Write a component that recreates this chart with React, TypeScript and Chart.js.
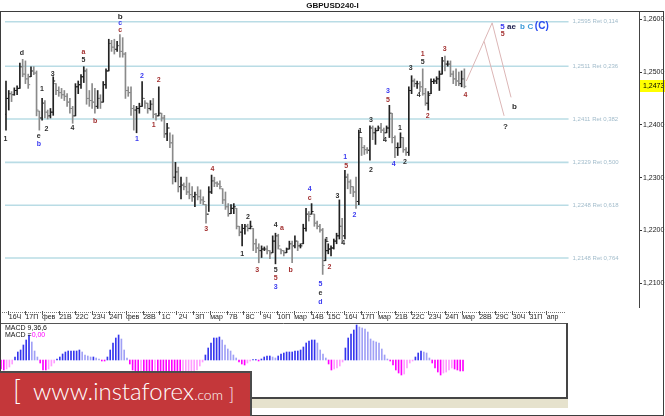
import React, { useEffect, useRef } from 'react';
import { Chart, registerables } from 'chart.js';

Chart.register(...registerables);

// ---------- DATA ----------
const opens = [
  1.2420,1.2450,1.2459,1.2457,1.2465,1.2469,1.2510,1.2496,1.2487,1.2491,
  1.2502,1.2498,1.2426,1.2413,1.2441,1.2424,1.2417,1.2424,1.2478,1.2465,
  1.2461,1.2457,1.2454,1.2443,1.2431,1.2417,1.2472,1.2476,1.2491,1.2502,
  1.2450,1.2446,1.2443,1.2435,1.2450,1.2443,1.2476,1.2502,1.2554,1.2547,
  1.2543,1.2550,1.2539,1.2534,1.2465,1.2461,1.2431,1.2428,1.2431,1.2435,
  1.2450,1.2441,1.2431,1.2439,1.2420,1.2417,1.2422,1.2413,1.2383,1.2394,
  1.2366,1.2301,1.2311,1.2283,1.2286,1.2283,1.2273,1.2268,1.2264,1.2268,
  1.2264,1.2258,1.2249,1.2231,1.2273,1.2294,1.2290,1.2288,1.2279,1.2258,
  1.2245,1.2232,1.2242,1.2242,1.2208,1.2197,1.2204,1.2208,1.2204,1.2204,
  1.2175,1.2167,1.2162,1.2165,1.2165,1.2162,1.2158,1.2180,1.2190,1.2165,
  1.2162,1.2158,1.2165,1.2175,1.2171,1.2180,1.2171,1.2175,1.2204,1.2231,
  1.2231,1.2231,1.2214,1.2208,1.2201,1.2143,1.2162,1.2165,1.2167,1.2180,
  1.2190,1.2208,1.2190,1.2301,1.2292,1.2283,1.2273,1.2255,1.2376,1.2357,
  1.2353,1.2352,1.2394,1.2385,1.2389,1.2394,1.2390,1.2385,1.2394,1.2422,
  1.2376,1.2357,1.2357,1.2376,1.2353,1.2348,1.2465,1.2483,1.2478,1.2478,
  1.2472,1.2459,1.2441,1.2459,1.2482,1.2483,1.2487,1.2496,1.2521,1.2515,
  1.2515,1.2496,1.2487,1.2483,1.2478,1.2487,
];
const highs = [
  1.2483,1.2465,1.2463,1.2470,1.2474,1.2517,1.2524,1.2521,1.2496,1.2510,
  1.2510,1.2502,1.2426,1.2450,1.2446,1.2428,1.2431,1.2491,1.2478,1.2472,
  1.2469,1.2465,1.2459,1.2450,1.2435,1.2478,1.2483,1.2495,1.2510,1.2506,
  1.2465,1.2478,1.2469,1.2465,1.2457,1.2482,1.2506,1.2562,1.2560,1.2562,
  1.2558,1.2571,1.2565,1.2537,1.2472,1.2472,1.2437,1.2435,1.2441,1.2482,
  1.2446,1.2441,1.2446,1.2450,1.2422,1.2472,1.2422,1.2418,1.2403,1.2385,
  1.2381,1.2329,1.2320,1.2301,1.2290,1.2301,1.2290,1.2283,1.2273,1.2283,
  1.2277,1.2264,1.2249,1.2283,1.2305,1.2301,1.2292,1.2294,1.2279,1.2273,
  1.2251,1.2249,1.2251,1.2242,1.2208,1.2212,1.2212,1.2212,1.2218,1.2204,
  1.2184,1.2175,1.2171,1.2169,1.2171,1.2162,1.2190,1.2195,1.2193,1.2165,
  1.2162,1.2167,1.2180,1.2180,1.2190,1.2180,1.2175,1.2212,1.2242,1.2236,
  1.2251,1.2231,1.2218,1.2212,1.2204,1.2184,1.2175,1.2171,1.2184,1.2195,
  1.2258,1.2223,1.2314,1.2307,1.2296,1.2283,1.2301,1.2390,1.2376,1.2361,
  1.2357,1.2398,1.2398,1.2394,1.2398,1.2403,1.2394,1.2398,1.2437,1.2422,
  1.2379,1.2366,1.2385,1.2376,1.2357,1.2472,1.2493,1.2487,1.2483,1.2482,
  1.2506,1.2469,1.2463,1.2487,1.2487,1.2491,1.2502,1.2528,1.2530,1.2521,
  1.2521,1.2502,1.2506,1.2500,1.2502,1.2506,
];
const lows = [
  1.2390,1.2428,1.2444,1.2456,1.2457,1.2469,1.2491,1.2478,1.2469,1.2491,
  1.2495,1.2417,1.2390,1.2409,1.2413,1.2411,1.2413,1.2418,1.2457,1.2454,
  1.2450,1.2446,1.2435,1.2422,1.2403,1.2417,1.2459,1.2469,1.2480,1.2439,
  1.2435,1.2431,1.2422,1.2431,1.2431,1.2443,1.2469,1.2502,1.2539,1.2534,
  1.2539,1.2528,1.2528,1.2450,1.2454,1.2418,1.2390,1.2385,1.2422,1.2435,
  1.2431,1.2422,1.2428,1.2413,1.2409,1.2417,1.2407,1.2376,1.2370,1.2357,
  1.2288,1.2292,1.2273,1.2260,1.2277,1.2268,1.2260,1.2255,1.2245,1.2258,
  1.2251,1.2249,1.2214,1.2236,1.2270,1.2283,1.2283,1.2279,1.2251,1.2240,
  1.2227,1.2232,1.2232,1.2203,1.2190,1.2171,1.2193,1.2199,1.2203,1.2162,
  1.2158,1.2139,1.2149,1.2162,1.2156,1.2147,1.2158,1.2137,1.2165,1.2156,
  1.2152,1.2158,1.2165,1.2139,1.2167,1.2162,1.2167,1.2175,1.2199,1.2218,
  1.2231,1.2208,1.2203,1.2197,1.2117,1.2143,1.2156,1.2152,1.2165,1.2175,
  1.2184,1.2177,1.2184,1.2279,1.2270,1.2264,1.2242,1.2249,1.2342,1.2344,
  1.2346,1.2333,1.2372,1.2363,1.2389,1.2385,1.2370,1.2385,1.2376,1.2366,
  1.2338,1.2342,1.2357,1.2348,1.2342,1.2342,1.2459,1.2472,1.2469,1.2463,
  1.2456,1.2437,1.2428,1.2459,1.2478,1.2478,1.2465,1.2496,1.2502,1.2511,
  1.2491,1.2478,1.2474,1.2474,1.2472,1.2470,
];
const closes = [
  1.2450,1.2459,1.2457,1.2465,1.2469,1.2510,1.2496,1.2487,1.2476,1.2502,
  1.2498,1.2428,1.2413,1.2441,1.2424,1.2417,1.2424,1.2483,1.2465,1.2461,
  1.2457,1.2454,1.2443,1.2431,1.2417,1.2472,1.2476,1.2491,1.2502,1.2450,
  1.2446,1.2443,1.2435,1.2450,1.2443,1.2476,1.2502,1.2554,1.2547,1.2543,
  1.2550,1.2539,1.2534,1.2465,1.2461,1.2431,1.2428,1.2431,1.2435,1.2450,
  1.2441,1.2431,1.2439,1.2420,1.2417,1.2422,1.2413,1.2383,1.2394,1.2366,
  1.2301,1.2311,1.2283,1.2286,1.2283,1.2273,1.2268,1.2264,1.2268,1.2264,
  1.2258,1.2255,1.2231,1.2273,1.2294,1.2290,1.2288,1.2283,1.2258,1.2245,
  1.2232,1.2242,1.2245,1.2208,1.2197,1.2204,1.2208,1.2204,1.2208,1.2175,
  1.2167,1.2162,1.2165,1.2165,1.2162,1.2156,1.2180,1.2190,1.2171,1.2162,
  1.2158,1.2165,1.2175,1.2171,1.2180,1.2171,1.2171,1.2204,1.2231,1.2227,
  1.2236,1.2214,1.2208,1.2201,1.2134,1.2162,1.2165,1.2167,1.2180,1.2190,
  1.2208,1.2190,1.2301,1.2292,1.2283,1.2273,1.2255,1.2376,1.2357,1.2353,
  1.2352,1.2394,1.2385,1.2389,1.2394,1.2390,1.2385,1.2394,1.2422,1.2376,
  1.2357,1.2357,1.2376,1.2353,1.2348,1.2465,1.2483,1.2478,1.2478,1.2472,
  1.2459,1.2441,1.2456,1.2482,1.2483,1.2487,1.2496,1.2521,1.2515,1.2515,
  1.2496,1.2487,1.2483,1.2478,1.2487,1.2473,
];
const macdHist = [
  -0.0009,-0.0010,-0.0009,-0.0007,-0.0004,0.0003,0.0008,0.0010,0.0015,0.0020,
  0.0025,0.0018,0.0009,0.0003,-0.0003,-0.0010,-0.0010,-0.0009,-0.0006,-0.0003,
  0.0001,0.0003,0.0006,0.0008,0.0009,0.0009,0.0009,0.0009,0.0010,0.0008,
  0.0005,0.0004,0.0003,0.0003,0.0002,0.0001,-0.0001,-0.0001,0.0003,0.0010,
  0.0017,0.0022,0.0025,0.0021,0.0010,0.0002,-0.0004,-0.0010,-0.0012,-0.0012,
  -0.0011,-0.0011,-0.0012,-0.0013,-0.0013,-0.0012,-0.0013,-0.0014,-0.0015,-0.0016,
  -0.0018,-0.0020,-0.0021,-0.0022,-0.0022,-0.0021,-0.0020,-0.0018,-0.0016,-0.0014,
  -0.0010,-0.0006,-0.0002,0.0005,0.0012,0.0017,0.0022,0.0022,0.0023,0.0020,
  0.0015,0.0011,0.0009,0.0005,0.0002,-0.0002,-0.0004,-0.0005,-0.0003,-0.0001,
  0.00005,0.00005,-0.0001,0.0001,0.0003,0.0004,0.0004,0.0003,0.0002,0.0004,
  0.0006,0.0007,0.0008,0.0008,0.0008,0.0009,0.0009,0.0010,0.0013,0.0017,
  0.0019,0.0020,0.0020,0.0017,0.0010,0.0006,0.0002,-0.0004,-0.0010,-0.0009,
  -0.0008,-0.0006,-0.0002,0.0012,0.0022,0.0026,0.0030,0.0035,0.0033,0.0032,
  0.0031,0.0028,0.0021,0.0019,0.0018,0.0017,0.0011,0.0005,0.0001,-0.0001,
  -0.0005,-0.0010,-0.0013,-0.0015,-0.0014,-0.0008,-0.0003,-0.0001,0.0003,0.0007,
  0.0009,0.0008,0.0007,0.0002,-0.0003,-0.0008,-0.0012,-0.0015,-0.0013,-0.0012,
  -0.0010,-0.0008,-0.0009,-0.0010,-0.0011,-0.0011,
];

const dateLabels = [
  '16Ч','17П','фев','21В','22С','23Ч','24П','фев','28В','1С','2Ч','3П','мар',
  '7В','8С','9Ч','10П','мар','14В','15С','16Ч','17П','мар','21В','22С','23Ч',
  '24П','мар','28В','29С','30Ч','31П','апр',
];

const fibLevels = [1.2595, 1.2511, 1.2411, 1.2329, 1.2248, 1.2148];
const fibRatios = ['0,114', '0,236', '0,382', '0,500', '0,618', '0,764'];
const lastPrice = 1.2473;

const projPathA = [{ x: 165.7, y: 1.2483 }, { x: 175.0, y: 1.2593 }, { x: 181.8, y: 1.2452 }];
const projPathB = [{ x: 172.1, y: 1.2558 }, { x: 179.3, y: 1.2417 }];

// [bar index, price, text, colour key, weight]
const waveLabels: [number, number, string, string, number][] = [
  [-0.2, 1.2374, '1', 'k', 0], [5.7, 1.2536, 'd', 'k', 0], [12.9, 1.2467, '1', 'k', 0],
  [16.8, 1.2496, '3', 'k', 0], [11.8, 1.2379, 'e', 'k', 0], [11.8, 1.2363, 'b', 'b', 0],
  [14.6, 1.2392, '2', 'k', 0], [23.9, 1.2394, '4', 'k', 0], [27.9, 1.2537, 'a', 'r', 0],
  [27.9, 1.2523, '5', 'k', 0], [32.1, 1.2407, 'b', 'r', 0], [41.1, 1.2604, 'b', 'k', 1],
  [41.1, 1.2593, 'c', 'b', 0], [41.1, 1.2580, 'c', 'r', 0], [48.9, 1.2493, '2', 'b', 0],
  [47.1, 1.2374, '1', 'b', 0], [55.0, 1.2485, '2', 'r', 0], [53.2, 1.2400, '1', 'r', 0],
  [74.3, 1.2316, '4', 'r', 0], [72.1, 1.2203, '3', 'r', 0], [85.0, 1.2156, '1', 'k', 0],
  [87.1, 1.2225, '2', 'k', 0], [90.4, 1.2126, '3', 'r', 0], [97.1, 1.2210, '4', 'k', 0],
  [99.3, 1.2204, 'a', 'r', 0], [97.1, 1.2125, '5', 'k', 0], [97.1, 1.2110, '5', 'r', 0],
  [97.1, 1.2093, '3', 'b', 0], [102.5, 1.2125, 'b', 'r', 0], [109.3, 1.2279, '4', 'b', 0],
  [109.3, 1.2262, 'c', 'r', 0], [113.2, 1.2098, '5', 'b', 0], [113.2, 1.2082, 'e', 'k', 0],
  [113.2, 1.2065, 'd', 'b', 0], [115.4, 1.2182, '1', 'k', 0], [116.4, 1.2130, '2', 'r', 0],
  [119.3, 1.2266, '3', 'k', 0], [121.4, 1.2177, '4', 'k', 0], [122.1, 1.2340, '1', 'b', 0],
  [122.5, 1.2322, '5', 'r', 0], [125.4, 1.2229, '2', 'b', 0], [127.5, 1.2389, '1', 'k', 0],
  [131.4, 1.2314, '2', 'k', 0], [131.4, 1.2409, '3', 'k', 0], [136.4, 1.2372, '4', 'k', 0],
  [137.5, 1.2463, '3', 'b', 0], [137.5, 1.2446, '5', 'r', 0], [139.6, 1.2325, '4', 'b', 0],
  [141.8, 1.2394, '1', 'k', 0], [143.6, 1.2329, '2', 'k', 0], [145.7, 1.2508, '3', 'k', 0],
  [148.6, 1.2456, '4', 'k', 0], [150.0, 1.2519, '5', 'k', 0], [150.0, 1.2534, '1', 'r', 0],
  [151.8, 1.2417, '2', 'r', 0], [157.9, 1.2543, '3', 'r', 0], [165.4, 1.2456, '4', 'r', 0],
  [178.75, 1.2586, '5', 'b', 1], [181.96, 1.2586, 'ae', 'n', 1], [185.9, 1.2586, 'b', 'c', 1],
  [188.75, 1.2586, 'C', 'c', 1], [192.86, 1.2586, '(C)', 'B', 2], [178.8, 1.2571, '5', 'r', 0],
  [183.0, 1.2435, 'b', 'k', 1], [179.75, 1.2397, '?', 'k', 1],
];

// ---------- LAYOUT / STYLE ----------
const BAR_PX = 2.8;
const X_MIN = -0.357;
const MAIN_W = 665;
const MAIN_H = 312;
const AXIS_W = 26;
const MACD_W = 568;
const MACD_H = 98;
const MACD_PLOT_W = 566;
const Y_MIN = 1.205534;
const Y_MAX = 1.261544;
const FIB_END = 202.5;
const DAY_TICK = 2.6;
const DAY_LABEL = 5;
const BARS_PER_DAY = 6;
const FONT = '"Liberation Sans", Arial, sans-serif';

const COLORS: Record<string, string> = {
  k: '#2e2e2e', r: '#a33030', b: '#3a3af0', c: '#3a9ad8', n: '#1e2050', B: '#2a4cf0',
};

const fmt = (v: number) => v.toFixed(4).replace('.', ',');

const mainDecor = {
  id: 'mainDecor',
  afterDatasetsDraw(chart: any) {
    const { ctx, scales } = chart;
    const x = scales.x;
    const y = scales.y;
    ctx.save();
    ctx.font = `6px ${FONT}`;
    ctx.fillStyle = '#a2bccb';
    ctx.textAlign = 'left';
    ctx.textBaseline = 'middle';
    fibLevels.forEach((lv, i) => {
      ctx.fillText(`${fmt(lv)} Ret ${fibRatios[i]}`, x.getPixelForValue(FIB_END) + 4, y.getPixelForValue(lv));
    });
    ctx.textAlign = 'center';
    for (const [xi, p, t, c, w] of waveLabels) {
      const size = w === 2 ? 10 : w === 1 ? 8 : 7;
      ctx.font = `bold ${size}px ${FONT}`;
      ctx.fillStyle = COLORS[c];
      ctx.fillText(t, x.getPixelForValue(xi), y.getPixelForValue(p));
    }
    ctx.restore();
  },
  afterDraw(chart: any) {
    const { ctx, chartArea, scales } = chart;
    const yy = scales.y.getPixelForValue(lastPrice);
    ctx.save();
    ctx.fillStyle = '#ffff00';
    ctx.fillRect(chartArea.right + 1, Math.round(yy) - 6, AXIS_W, 12);
    ctx.fillStyle = '#000';
    ctx.font = `7px ${FONT}`;
    ctx.textAlign = 'left';
    ctx.textBaseline = 'middle';
    ctx.fillText(fmt(lastPrice), chartArea.right + 4, Math.round(yy));
    ctx.restore();
  },
};

const macdDecor = {
  id: 'macdDecor',
  beforeDraw(chart: any) {
    const { ctx, chartArea } = chart;
    ctx.save();
    ctx.fillStyle = '#e6e2cd';
    ctx.fillRect(0, chartArea.bottom + 2, chartArea.right + 2, 9);
    ctx.restore();
  },
  afterDraw(chart: any) {
    const { ctx, chartArea, scales } = chart;
    const x = scales.x;
    ctx.save();
    ctx.strokeStyle = '#777';
    ctx.lineWidth = 1;
    ctx.setLineDash([1, 1]);
    ctx.beginPath();
    ctx.moveTo(0, 1.5);
    ctx.lineTo(chartArea.right, 1.5);
    ctx.stroke();
    ctx.setLineDash([]);
    ctx.strokeStyle = '#555';
    for (let k = 0; k < dateLabels.length; k++) {
      const px = Math.round(x.getPixelForValue(DAY_TICK + BARS_PER_DAY * k)) + 0.5;
      ctx.beginPath();
      ctx.moveTo(px, 0);
      ctx.lineTo(px, 4);
      ctx.stroke();
    }
    ctx.strokeStyle = '#454545';
    ctx.lineWidth = 2;
    ctx.beginPath();
    ctx.moveTo(chartArea.right + 1, chartArea.top);
    ctx.lineTo(chartArea.right + 1, chartArea.bottom + 1);
    ctx.lineTo(0, chartArea.bottom + 1);
    ctx.stroke();
    ctx.font = `7px ${FONT}`;
    ctx.textAlign = 'left';
    ctx.textBaseline = 'middle';
    ctx.fillStyle = '#111';
    ctx.fillText('MACD 9,36,6', 5, chartArea.top + 5);
    const lbl = 'MACD =';
    ctx.fillText(lbl, 5, chartArea.top + 12);
    ctx.fillStyle = '#ff00ff';
    ctx.fillText('0,00', 5 + ctx.measureText(lbl).width, chartArea.top + 12);
    ctx.restore();
  },
};

export default function App() {
  const mainRef = useRef<HTMLCanvasElement>(null);
  const macdRef = useRef<HTMLCanvasElement>(null);

  useEffect(() => {
    const barColors = closes.map((c, i) => (c >= opens[i] ? '#222222' : '#8a8a8a'));
    const fibSets = fibLevels.map((lv) => ({
      type: 'line' as const,
      data: [{ x: X_MIN, y: lv }, { x: FIB_END, y: lv }],
      borderColor: '#b9dce5',
      borderWidth: 1.6,
      pointRadius: 0,
      order: 10,
    }));
    const main = new Chart(mainRef.current!, {
      type: 'bar',
      data: {
        datasets: [
          ...fibSets,
          {
            type: 'bar',
            data: highs.map((h, i) => ({ x: i, y: [lows[i], h] })) as any,
            backgroundColor: barColors,
            borderWidth: 0,
            barThickness: 1,
            order: 2,
          },
          {
            type: 'line',
            data: opens.map((o, i) => ({ x: i - 0.35, y: o })),
            showLine: false,
            pointStyle: 'line',
            pointRadius: 1,
            pointBorderWidth: 1,
            pointBorderColor: barColors,
            order: 1,
          },
          {
            type: 'line',
            data: closes.map((c, i) => ({ x: i + 0.35, y: c })),
            showLine: false,
            pointStyle: 'line',
            pointRadius: 1,
            pointBorderWidth: 1,
            pointBorderColor: barColors,
            order: 1,
          },
          { type: 'line', data: projPathA, borderColor: '#dcb6b6', borderWidth: 1, pointRadius: 0, order: 3 },
          { type: 'line', data: projPathB, borderColor: '#dcb6b6', borderWidth: 1, pointRadius: 0, order: 3 },
        ] as any,
      },
      options: {
        animation: false,
        responsive: false,
        devicePixelRatio: 1,
        events: [],
        layout: { padding: 0 },
        plugins: {
          legend: { display: false },
          tooltip: { enabled: false },
          title: {
            display: true,
            text: 'GBPUSD240-I',
            color: '#111',
            font: { family: FONT, size: 8, weight: 'bold', lineHeight: 1.25 },
            padding: { top: 1, bottom: 0 },
          },
        },
        scales: {
          x: {
            type: 'linear',
            min: X_MIN,
            max: X_MIN + (MAIN_W - AXIS_W) / BAR_PX,
            offset: false,
            display: false,
          },
          y: {
            type: 'linear',
            position: 'right',
            min: Y_MIN,
            max: Y_MAX,
            afterFit: (s: any) => {
              s.width = AXIS_W;
              s.paddingTop = 0;
              s.paddingBottom = 0;
            },
            ticks: {
              stepSize: 0.01,
              includeBounds: false,
              callback: (v: any) => fmt(Number(v)),
              color: '#1a1a1a',
              font: { family: FONT, size: 7 },
              padding: 1,
            },
            grid: { drawOnChartArea: false, drawTicks: true, tickLength: 3, color: '#333' },
            border: { display: true, color: '#444', width: 1 },
          },
        },
      } as any,
      plugins: [mainDecor],
    });

    const macdColors = macdHist.map((v, i) => {
      const prev = i > 0 ? macdHist[i - 1] : 0;
      if (v >= 0) return v >= prev ? '#3535ee' : '#a0a0f6';
      return v <= prev ? '#ff00ff' : '#ff9cff';
    });
    const macd = new Chart(macdRef.current!, {
      type: 'bar',
      data: {
        datasets: [
          {
            type: 'bar',
            data: macdHist.map((v, i) => ({ x: i, y: v })),
            backgroundColor: macdColors,
            borderWidth: 0,
            barThickness: 1,
          },
        ],
      },
      options: {
        animation: false,
        responsive: false,
        devicePixelRatio: 1,
        events: [],
        layout: { padding: { left: 0, right: MACD_W - MACD_PLOT_W, top: 0, bottom: 12 } },
        plugins: { legend: { display: false }, tooltip: { enabled: false } },
        scales: {
          x: {
            type: 'linear',
            position: 'top',
            min: X_MIN,
            max: X_MIN + MACD_PLOT_W / BAR_PX,
            offset: false,
            afterFit: (s: any) => {
              s.height = 12;
              s.paddingLeft = 0;
              s.paddingRight = 0;
            },
            afterBuildTicks: (s: any) => {
              s.ticks = dateLabels.map((_, k) => ({ value: DAY_LABEL + BARS_PER_DAY * k }));
            },
            ticks: {
              autoSkip: false,
              maxRotation: 0,
              minRotation: 0,
              callback: (_v: any, i: number) => dateLabels[i],
              color: '#1a1a1a',
              font: { family: FONT, size: 7 },
              padding: 2,
            },
            grid: { display: false, drawTicks: false },
            border: { display: true, color: '#555', width: 1 },
          },
          y: { display: false, min: -0.0037, max: 0.0037 },
        },
      } as any,
      plugins: [macdDecor],
    });

    return () => {
      main.destroy();
      macd.destroy();
    };
  }, []);

  return (
    <div style={{ position: 'fixed', left: 0, top: 0, width: 665, height: 416, background: '#fff', overflow: 'hidden' }}>
      <canvas ref={mainRef} width={MAIN_W} height={MAIN_H} style={{ position: 'absolute', left: 0, top: 0 }} />
      <canvas ref={macdRef} width={MACD_W} height={MACD_H} style={{ position: 'absolute', left: 0, top: 311 }} />
      <div
        style={{
          position: 'absolute', left: 0, top: 11, width: 664, height: 405,
          border: '1px solid #3d3d3d', boxSizing: 'border-box', pointerEvents: 'none',
        }}
      />
      <div
        style={{
          position: 'absolute', left: 0, top: 371, width: 252, height: 46, background: '#c4373a',
          borderTop: '2px solid #4b4b4b', borderRight: '2px solid #4b4b4b', boxSizing: 'border-box',
          color: '#fff', fontFamily: 'Lato, "Open Sans", sans-serif', fontWeight: 300, whiteSpace: 'nowrap',
        }}
      >
        <span style={{ position: 'absolute', left: 13, top: 3, fontSize: 27, lineHeight: '27px' }}>[</span>
        <span style={{ position: 'absolute', left: 33, top: 6, fontSize: 24, lineHeight: '24px' }}>
          www.instaforex<span style={{ fontSize: 14 }}>.com</span>
        </span>
        <span style={{ position: 'absolute', left: 229, top: 12, fontSize: 17, lineHeight: '17px' }}>]</span>
      </div>
    </div>
  );
}
